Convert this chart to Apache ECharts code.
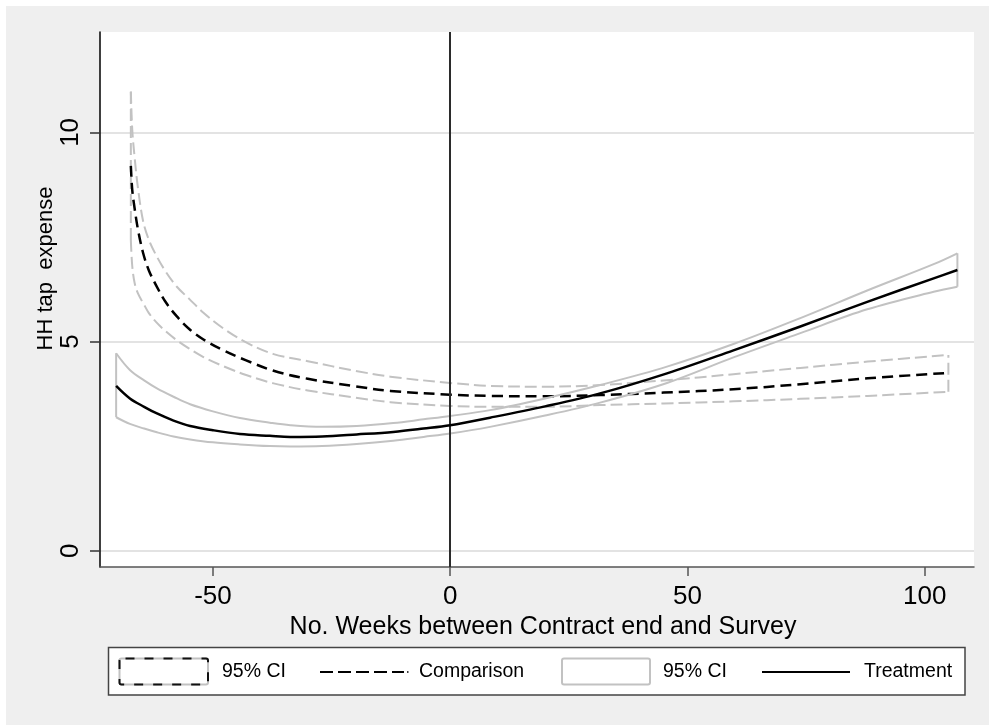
<!DOCTYPE html>
<html>
<head>
<meta charset="utf-8">
<title>HH tap expense by weeks between contract end and survey</title>
<script src="https://cdn.jsdelivr.net/npm/echarts@6/dist/echarts.min.js"></script>
<style>
  html, body { margin: 0; padding: 0; background: #ffffff; }
  #chart { width: 989px; height: 725px; }
</style>
</head>
<body>
<div id="chart"></div>
<script>
// Treatment group: fitted HH tap expense and 95% confidence bounds
const treatWeeks = [-70.4, -67.5, -64.5, -61.8, -58.3, -54.8, -50, -44.3, -38, -33.7, -27, -19.7, -12, -5.6, 0, 8.4, 20, 31.6, 45.7, 59.7, 73.8, 87.9, 101.9, 106.9];
const treatFit   = [3.94, 3.64, 3.44, 3.28, 3.11, 2.98, 2.88, 2.79, 2.745, 2.72, 2.73, 2.78, 2.84, 2.92, 3.00, 3.18, 3.45, 3.76, 4.24, 4.79, 5.36, 5.95, 6.51, 6.71];
const treatUpper = [4.72, 4.32, 4.07, 3.88, 3.68, 3.50, 3.33, 3.17, 3.06, 3.00, 2.96, 2.98, 3.05, 3.14, 3.22, 3.36, 3.64, 3.96, 4.40, 4.94, 5.56, 6.22, 6.85, 7.11];
const treatLower = [3.19, 3.03, 2.92, 2.83, 2.73, 2.66, 2.59, 2.54, 2.50, 2.49, 2.50, 2.55, 2.63, 2.72, 2.80, 2.96, 3.23, 3.54, 4.01, 4.62, 5.20, 5.77, 6.19, 6.31];

// Comparison group: fitted HH tap expense and 95% confidence bounds
const compWeeks = [-67.3, -67.0, -66.5, -65.8, -64.7, -63.5, -62.0, -60.0, -57.6, -55.0, -52.0, -48.0, -43.0, -37.2, -30, -20, -12.6, 0, 8.4, 20, 31.6, 45, 59.7, 73.8, 88, 105];
const compFit   = [9.20, 8.62, 8.18, 7.68, 7.11, 6.70, 6.35, 5.95, 5.60, 5.30, 5.05, 4.80, 4.55, 4.30, 4.11, 3.93, 3.82, 3.73, 3.70, 3.69, 3.72, 3.78, 3.86, 3.98, 4.12, 4.25];
const compUpper = [10.98, 10.06, 9.40, 8.67, 7.87, 7.43, 7.07, 6.68, 6.31, 6.02, 5.69, 5.33, 4.98, 4.70, 4.53, 4.30, 4.16, 4.01, 3.94, 3.92, 3.96, 4.07, 4.22, 4.37, 4.52, 4.68];
const compLower = [7.43, 6.80, 6.40, 6.15, 5.92, 5.68, 5.47, 5.25, 5.03, 4.83, 4.63, 4.42, 4.20, 4.00, 3.83, 3.66, 3.55, 3.46, 3.44, 3.44, 3.48, 3.52, 3.57, 3.63, 3.70, 3.80];

// Axis ticks and texts
const xTicks = [-50, 0, 50, 100];
const yTicks = [0, 5, 10];
const xTitle = 'No. Weeks between Contract end and Survey';
const yTitle = 'HH tap  expense';
const legendNames = ['95% CI', 'Comparison', '95% CI', 'Treatment'];

const FONT = '"Liberation Sans", Arial, Helvetica, sans-serif';
const GRAY = '#c2c2c2';

function pairs(xs, ys) { return xs.map((x, i) => [x, ys[i]]); }
function edge(xs, lo, hi, i) { return [[xs[i], lo[i]], [xs[i], hi[i]]]; }

function lineSeries(name, data, color, width, type, smooth, z) {
  return {
    name: name, type: 'line', data: data, smooth: smooth,
    showSymbol: false, symbol: 'none', silent: true, z: z,
    lineStyle: { color: color, width: width, type: type, cap: 'butt', join: 'round' }
  };
}

const compDash = [12, 5];
const fitDash = [11, 6];
const last = (a) => a.length - 1;

const series = [
  // comparison 95% CI outline
  lineSeries('compUpper', pairs(compWeeks, compUpper), GRAY, 2, compDash, 0.35, 2),
  lineSeries('compLower', pairs(compWeeks, compLower), GRAY, 2, compDash, 0.35, 2),
  lineSeries('compLeft', edge(compWeeks, compLower, compUpper, 0), GRAY, 2, compDash, false, 2),
  lineSeries('compRight', edge(compWeeks, compLower, compUpper, last(compWeeks)), GRAY, 2, compDash, false, 2),
  // comparison fit
  lineSeries('Comparison', pairs(compWeeks, compFit), '#000000', 2.5, fitDash, 0.35, 3),
  // treatment 95% CI outline
  lineSeries('treatUpper', pairs(treatWeeks, treatUpper), GRAY, 2, 'solid', 0.35, 4),
  lineSeries('treatLower', pairs(treatWeeks, treatLower), GRAY, 2, 'solid', 0.35, 4),
  lineSeries('treatLeft', edge(treatWeeks, treatLower, treatUpper, 0), GRAY, 2, 'solid', false, 4),
  lineSeries('treatRight', edge(treatWeeks, treatLower, treatUpper, last(treatWeeks)), GRAY, 2, 'solid', false, 4),
  // treatment fit
  lineSeries('Treatment', pairs(treatWeeks, treatFit), '#000000', 2.5, 'solid', 0.35, 5)
];

// reference line at week 0
series[0].markLine = {
  silent: true, symbol: ['none', 'none'], label: { show: false },
  lineStyle: { color: '#2b2b2b', width: 2, type: 'solid' },
  data: [{ xAxis: 0 }]
};

// legend drawn inside a framed box beneath the plot
const legendY = 672;
const legendFont = '19.5px ' + FONT;
const legendGraphics = [
  { type: 'rect', shape: { x: 108.5, y: 647.5, width: 856.5, height: 47.5 },
    style: { fill: '#ffffff', stroke: '#444444', lineWidth: 1.5 }, z: 10 },
  // comparison CI key
  { type: 'rect', shape: { x: 119.5, y: 658.5, width: 88.5, height: 26, r: 2 },
    style: { fill: '#ffffff', stroke: GRAY, lineWidth: 2 }, z: 11 },
  { type: 'rect', shape: { x: 119.5, y: 658.5, width: 88.5, height: 26, r: 2 },
    style: { fill: null, stroke: '#111111', lineWidth: 2, lineDash: [9, 10], lineDashOffset: -4 }, z: 12 },
  { type: 'text', x: 222, y: legendY, z: 12,
    style: { text: legendNames[0], font: legendFont, fill: '#000', verticalAlign: 'middle', align: 'left' } },
  // comparison fit key
  { type: 'line', shape: { x1: 320, y1: legendY, x2: 404, y2: legendY }, z: 12,
    style: { stroke: '#000', lineWidth: 2, lineDash: [13, 5] } },
  { type: 'line', shape: { x1: 407, y1: legendY, x2: 408.5, y2: legendY }, z: 12,
    style: { stroke: '#000', lineWidth: 1.5 } },
  { type: 'text', x: 419, y: legendY, z: 12,
    style: { text: legendNames[1], font: legendFont, fill: '#000', verticalAlign: 'middle', align: 'left' } },
  // treatment CI key
  { type: 'rect', shape: { x: 562, y: 658.5, width: 88, height: 26, r: 2 },
    style: { fill: '#ffffff', stroke: GRAY, lineWidth: 2 }, z: 11 },
  { type: 'text', x: 663, y: legendY, z: 12,
    style: { text: legendNames[2], font: legendFont, fill: '#000', verticalAlign: 'middle', align: 'left' } },
  // treatment fit key
  { type: 'line', shape: { x1: 762, y1: legendY, x2: 850, y2: legendY }, z: 12,
    style: { stroke: '#000', lineWidth: 2 } },
  { type: 'text', x: 864, y: legendY, z: 12,
    style: { text: legendNames[3], font: legendFont, fill: '#000', verticalAlign: 'middle', align: 'left' } }
];

const chart = echarts.init(document.getElementById('chart'), null, { renderer: 'canvas' });
chart.setOption({
  animation: false,
  backgroundColor: '#efefef',
  grid: {
    left: 100, right: 15, top: 32, bottom: 158,
    show: true, backgroundColor: '#ffffff', borderWidth: 0
  },
  xAxis: {
    type: 'value', min: -73.8, max: 110.4,
    name: xTitle, nameLocation: 'middle', nameGap: 41,
    nameTextStyle: { fontFamily: FONT, fontSize: 25, color: '#000', padding: [0, 0, 0, 12] },
    axisLine: { show: true, onZero: false, lineStyle: { color: '#555555', width: 1.5 } },
    axisTick: { show: true, length: 9, customValues: xTicks, lineStyle: { color: '#555555', width: 1.5 } },
    axisLabel: { customValues: xTicks, margin: 17, fontFamily: FONT, fontSize: 26, color: '#000' },
    splitLine: { show: false }
  },
  yAxis: {
    type: 'value', min: -0.39, max: 12.4,
    axisLine: { show: true, onZero: false, lineStyle: { color: '#000000', width: 1.5 } },
    axisTick: { show: true, length: 10, customValues: yTicks, lineStyle: { color: '#333333', width: 1.5 } },
    axisLabel: { customValues: yTicks, rotate: 90, margin: 16, fontFamily: FONT, fontSize: 26, color: '#000' },
    splitLine: { show: true, lineStyle: { color: '#e3e3e3', width: 2 } }
  },
  graphic: [
    // white margin along the top and left edges
    { type: 'rect', shape: { x: 0, y: 0, width: 989, height: 6 }, style: { fill: '#ffffff' }, z: 1 },
    { type: 'rect', shape: { x: 0, y: 0, width: 6, height: 725 }, style: { fill: '#ffffff' }, z: 1 },
    // y axis title
    { type: 'text', x: 45.5, y: 268.5, rotation: Math.PI / 2, z: 12,
      style: { text: yTitle, font: '22px ' + FONT, fill: '#000', align: 'center', verticalAlign: 'middle' } }
  ].concat(legendGraphics),
  series: series
});
</script>
</body>
</html>
